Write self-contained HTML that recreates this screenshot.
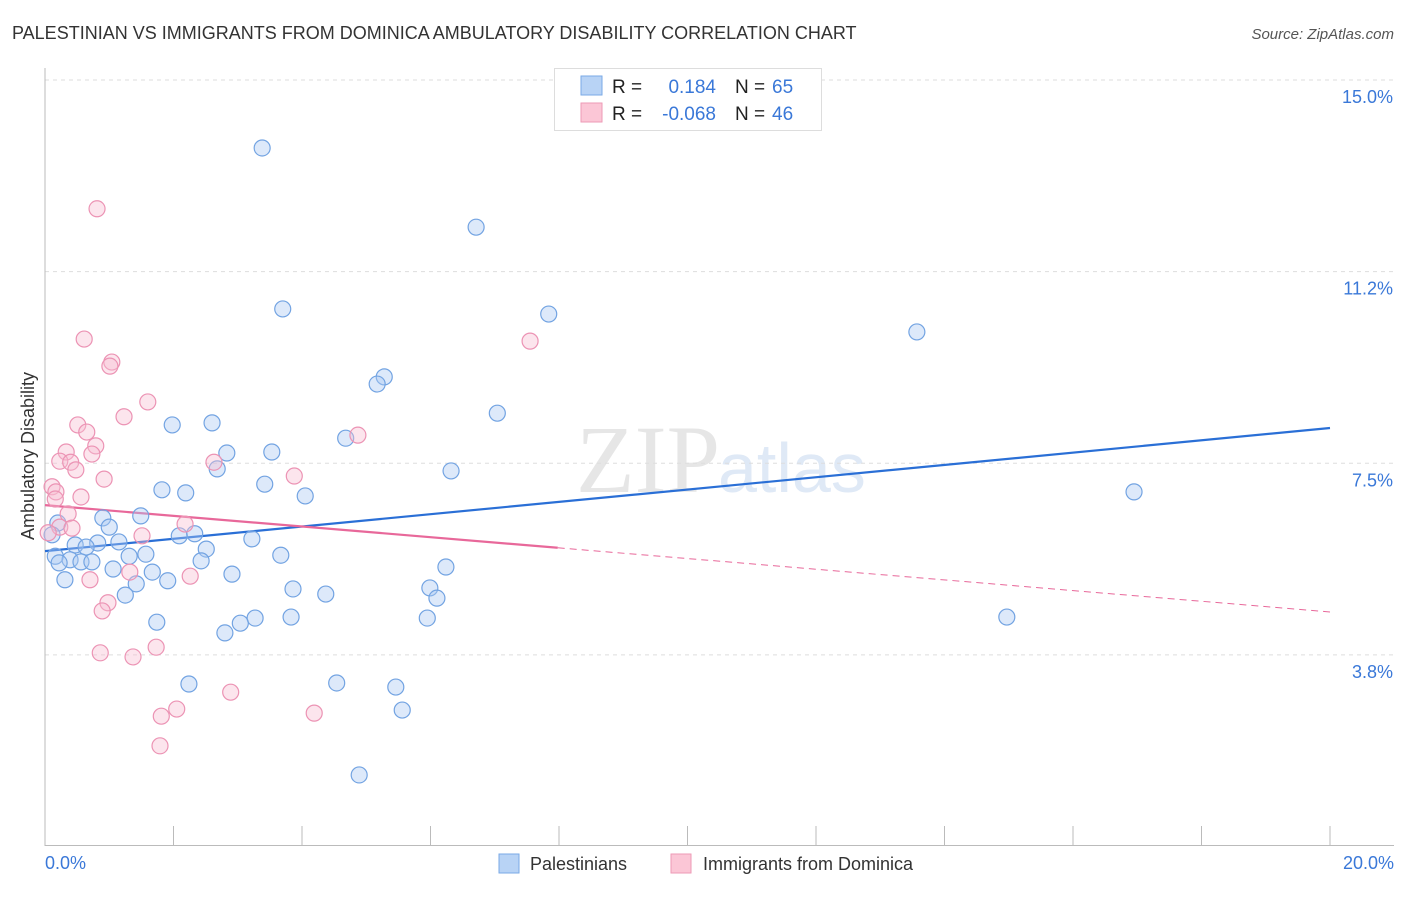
<!DOCTYPE html>
<html><head><meta charset="utf-8"><style>
body{margin:0;background:#fff;font-family:"Liberation Sans",sans-serif}
</style></head><body>
<svg id="c" width="1406" height="892" viewBox="0 0 1406 892" xmlns="http://www.w3.org/2000/svg" style="font-family:'Liberation Sans',sans-serif">
<text x="12" y="39" font-size="18" fill="#333">PALESTINIAN VS IMMIGRANTS FROM DOMINICA AMBULATORY DISABILITY CORRELATION CHART</text>
<text x="1394" y="39" font-size="15" fill="#555" font-style="italic" text-anchor="end">Source: ZipAtlas.com</text>
<text x="720" y="492" font-size="96" fill="#e6e6e6" text-anchor="end" font-family="Liberation Serif,serif">ZIP</text>
<text x="718" y="492" font-size="70" fill="#dfe9f6">atlas</text>
<g id="grid"></g><g id="axes"></g><g id="trend"></g><g id="pts"></g>
<text transform="translate(34,456) rotate(-90)" font-size="18" fill="#333" text-anchor="middle">Ambulatory Disability</text>
<text x="45" y="869" font-size="18" fill="#3a78d8">0.0%</text>
<text x="1394" y="869" font-size="18" fill="#3a78d8" text-anchor="end">20.0%</text>
<g>
<rect x="554.5" y="68.5" width="267" height="62" fill="#fff" stroke="#ddd"/>
<rect x="581" y="76" width="21" height="19" fill="#b8d3f5" stroke="#7aa9e6"/>
<rect x="581" y="103" width="21" height="19" fill="#fbc6d6" stroke="#ee9ab6"/>
<text x="612" y="93" font-size="19" fill="#222">R =</text><text x="716" y="93" font-size="19" fill="#3a78d8" text-anchor="end">0.184</text>
<text x="735" y="93" font-size="19" fill="#222">N =</text><text x="772" y="93" font-size="19" fill="#3a78d8">65</text>
<text x="612" y="120" font-size="19" fill="#222">R =</text><text x="716" y="120" font-size="19" fill="#3a78d8" text-anchor="end">-0.068</text>
<text x="735" y="120" font-size="19" fill="#222">N =</text><text x="772" y="120" font-size="19" fill="#3a78d8">46</text>
</g>
<g>
<rect x="499" y="854" width="20" height="19" fill="#b8d3f5" stroke="#7aa9e6"/>
<text x="530" y="870" font-size="18" fill="#333">Palestinians</text>
<rect x="671" y="854" width="20" height="19" fill="#fbc6d6" stroke="#ee9ab6"/>
<text x="703" y="870" font-size="18" fill="#333">Immigrants from Dominica</text>
</g>
</svg>
<script>
const yTicks=[3.75,7.5,11.25,15];
const yTickLabels=["3.8%","7.5%","11.2%","15.0%"];
const xTicks=[0,2,4,6,8,10,12,14,16,18,20];
const blueX=[3.38,6.71,3.70,7.84,13.57,5.28,5.17,7.04,1.98,2.60,4.68,2.83,3.53,6.32,2.68,3.42,1.82,2.19,4.05,16.95,1.49,0.90,1.00,0.20,0.11,2.09,2.33,3.22,1.15,0.82,0.47,0.64,2.51,1.57,1.31,3.67,0.16,0.39,0.22,0.56,0.73,2.43,6.24,1.06,1.67,2.91,1.91,0.31,1.42,3.86,5.99,1.25,4.37,6.10,3.27,3.83,5.95,14.97,1.74,3.04,2.80,2.24,4.54,5.46,5.56,4.89];
const blueY=[13.67,12.12,10.52,10.42,10.07,9.19,9.05,8.48,8.25,8.29,7.99,7.70,7.72,7.35,7.39,7.09,6.98,6.92,6.86,6.94,6.47,6.43,6.25,6.33,6.10,6.08,6.12,6.02,5.96,5.94,5.90,5.86,5.82,5.72,5.68,5.70,5.68,5.61,5.55,5.57,5.57,5.59,5.47,5.43,5.37,5.33,5.20,5.22,5.14,5.04,5.06,4.92,4.94,4.86,4.47,4.49,4.47,4.49,4.39,4.37,4.18,3.18,3.20,3.12,2.67,1.40];
const pinkX=[0.81,0.61,1.04,1.01,7.55,1.60,1.23,0.51,0.65,0.33,0.79,0.73,0.23,0.40,0.48,2.63,4.87,3.88,0.92,0.11,0.17,0.56,0.16,0.36,2.18,0.23,0.42,1.51,0.05,1.32,2.26,0.70,0.98,0.89,0.86,1.37,1.73,2.89,2.05,1.81,4.19,1.79];
const pinkY=[12.48,9.93,9.48,9.40,9.89,8.70,8.41,8.25,8.11,7.72,7.84,7.68,7.54,7.52,7.37,7.52,8.05,7.25,7.19,7.04,6.94,6.84,6.80,6.51,6.31,6.25,6.23,6.08,6.14,5.37,5.29,5.22,4.77,4.61,3.79,3.71,3.90,3.02,2.69,2.55,2.61,1.97];
const blueTrend=[5.78,8.19];
const pinkTrend=[6.68,4.59];
const pinkSolidEnd=7.98;
const NS="http://www.w3.org/2000/svg";
const X=v=>45+v*64.25, Y=v=>80+(15-v)*51.1;
function mk(t,a,p){const e=document.createElementNS(NS,t);for(const k in a)e.setAttribute(k,a[k]);p.appendChild(e);return e;}
const grid=document.getElementById('grid'),axes=document.getElementById('axes');
yTicks.forEach((v,i)=>{
 const l=mk('line',{x1:45,x2:1394,y1:Y(v),y2:Y(v),stroke:'#ddd','stroke-dasharray':'4,4'},grid);
 
 
 const t=mk('text',{x:1393,y:Y(v)+23,'font-size':18,fill:'#3a78d8','text-anchor':'end'},grid);
 t.textContent=yTickLabels[i];
 
 
});
const ax=mk('line',{x1:45,x2:45,y1:68,y2:846,stroke:'#bbb'},axes);


const bx=mk('line',{x1:45,x2:1394,y1:845.5,y2:845.5,stroke:'#bbb'},axes);


xTicks.forEach(v=>{
 const l=mk('line',{x1:X(v),x2:X(v),y1:826,y2:846,stroke:'#bbb'},axes);
 
 
});
const tr=document.getElementById('trend');
const bl=mk('line',{x1:X(0),y1:Y(blueTrend[0]),x2:X(20),y2:Y(blueTrend[1]),stroke:'#2a6fd6','stroke-width':2.2},tr);


const py=v=>pinkTrend[0]+(pinkTrend[1]-pinkTrend[0])*v/20;
const ps=mk('line',{x1:X(0),y1:Y(py(0)),x2:X(pinkSolidEnd),y2:Y(py(pinkSolidEnd)),stroke:'#e8689a','stroke-width':2.2},tr);


const pd=mk('line',{x1:X(pinkSolidEnd),y1:Y(py(pinkSolidEnd)),x2:X(20),y2:Y(py(20)),stroke:'#e8689a','stroke-width':1,'stroke-dasharray':'7,5'},tr);


const pts=document.getElementById('pts');
blueX.forEach((x,i)=>{
 const c=mk('circle',{cx:X(x),cy:Y(blueY[i]),r:8,fill:'rgba(170,200,242,0.4)',stroke:'#72a3e2','stroke-width':1.2},pts);
 
 
});
pinkX.forEach((x,i)=>{
 const c=mk('circle',{cx:X(x),cy:Y(pinkY[i]),r:8,fill:'rgba(248,190,210,0.4)',stroke:'#ec93b4','stroke-width':1.2},pts);
 
 
});
</script>
</body></html>
